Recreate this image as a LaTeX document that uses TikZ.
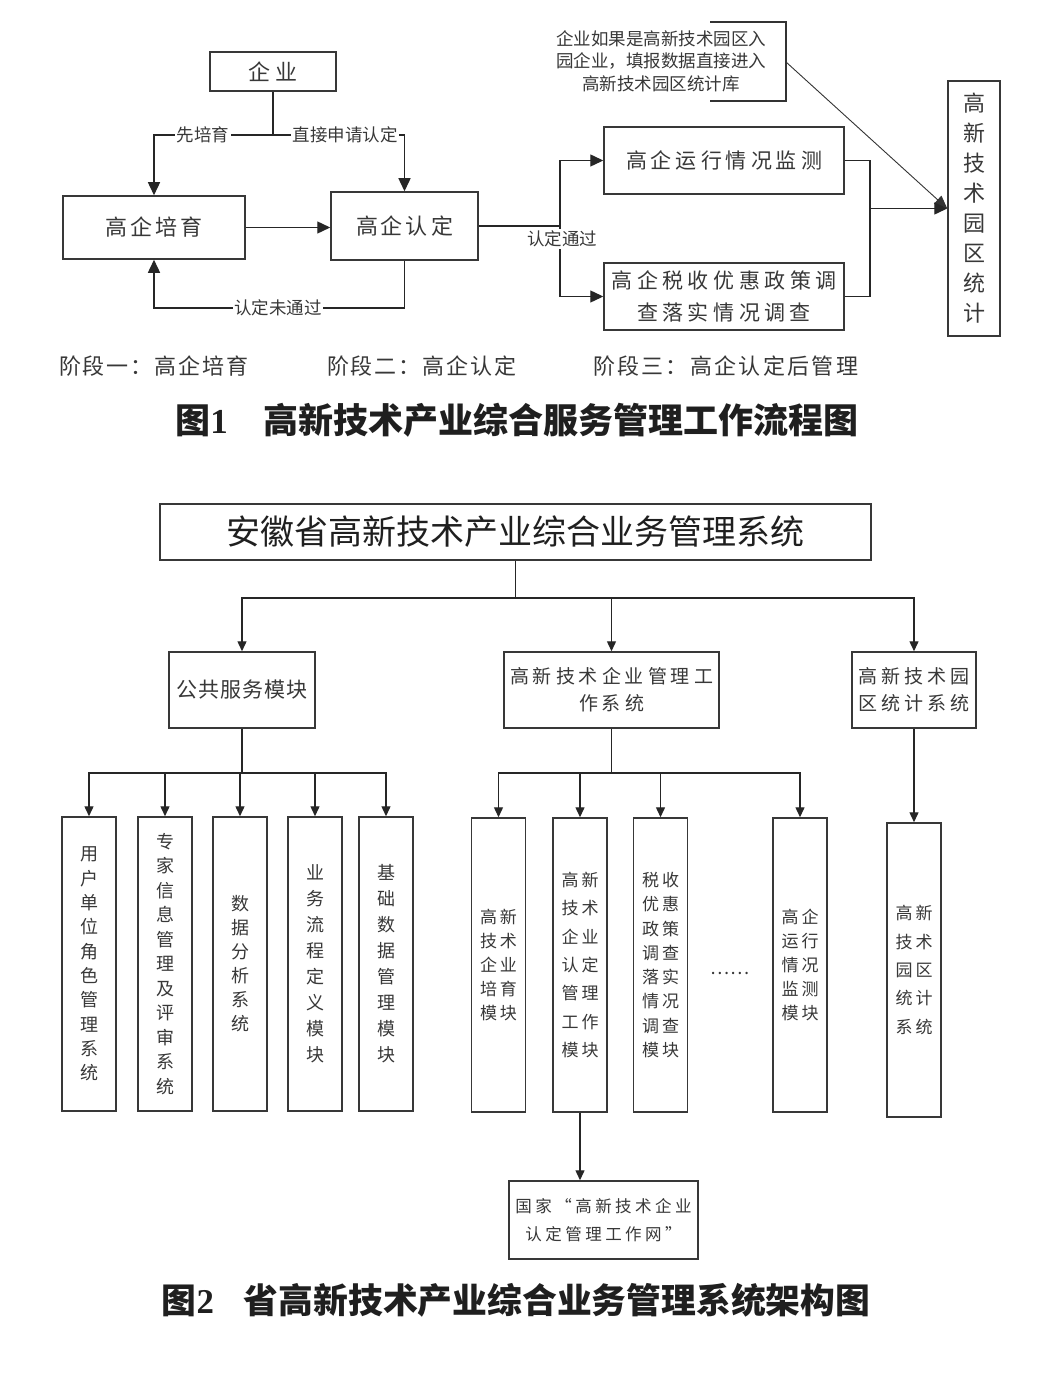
\documentclass[tikz,border=0pt]{standalone}
\usepackage{fontspec}
\setmainfont{Noto Sans CJK SC}
\newfontfamily\numf{Liberation Serif}
\usetikzlibrary{arrows.meta}
\newcommand\fsz[2]{\fontsize{#1}{#2}\selectfont}
\makeatletter
\newcommand\ltrsp[2]{\def\ltrsp@sep{\hspace{#1}}\let\ltrsp@pre\relax\@tfor\ltrsp@tok:=#2\do{\ltrsp@pre\ltrsp@tok\let\ltrsp@pre\ltrsp@sep}}
\makeatother
\tikzset{
 box/.style={draw=black!78, line width=1.5pt, inner sep=0pt, align=center, text=black!78},
 vbox/.style={box, minimum width=54pt, minimum height=294pt},
 txt/.style={inner sep=0pt, align=center, text=black!78},
 lnk/.style={draw=black!85, line width=1.4pt},
 arr/.style={lnk, -{Triangle[length=13pt,width=12pt]}},
 arrs/.style={lnk, -{Triangle[length=10pt,width=9pt]}},
 thinarr/.style={draw=black!80, line width=0.9pt, -{Triangle[length=13pt,width=11pt]}},
 lbl/.style={fill=white, inner sep=1.5pt, text=black!78, font=\fsz{17.5}{17.5}},
}
\begin{document}
\begin{tikzpicture}[x=1pt,y=-1pt]
\fill[white] (0,0) rectangle (1036,1388);
\useasboundingbox (0,0) rectangle (1036,1388);

% ---------------- Figure 1 ----------------
\node[box, minimum width=126pt, minimum height=39pt, font=\fsz{22}{22}] (qy) at (273,71.5) {\ltrsp{5pt}{企业}};
\node[box, minimum width=182pt, minimum height=63pt, font=\fsz{22}{22}] (py) at (154,227.5) {\ltrsp{3pt}{高企培育}};
\node[box, minimum width=147pt, minimum height=68pt, font=\fsz{22}{22}] (rd) at (404.5,226) {\ltrsp{3pt}{高企认定}};
\node[box, minimum width=240pt, minimum height=67pt, font=\fsz{21}{21}] (jc) at (724,160.5) {\ltrsp{4pt}{高企运行情况监测}};
\node[box, minimum width=240pt, minimum height=67pt, font=\fsz{21}{32}] (ss) at (724,296.5) {\ltrsp{4.5pt}{高企税收优惠政策调}\\\ltrsp{4.5pt}{查落实情况调查}};
\node[box, minimum width=52pt, minimum height=255pt, font=\fsz{22}{30}] (tj) at (974,208.5) {高\\新\\技\\术\\园\\区\\统\\计};

\node[txt, font=\fsz{17.5}{22.5}] (note) at (661,61) {企业如果是高新技术园区入\\园企业，填报数据直接进入\\高新技术园区统计库};
\coordinate (nb1) at (710,22);
\coordinate (nb2) at (786,22);
\coordinate (nb3) at (786,101);
\coordinate (nb4) at (710,101);
\coordinate (nr) at (786,62);
\draw[draw=black!80, line width=1.4pt] (nb1) -- (nb2) -- (nb3) -- (nb4);
\draw[thinarr] (nr) -- (tj.west);

% connectors
\coordinate (j1) at (273,135);
\draw[lnk] (qy.south) -- (j1);
\draw[arr] (j1) -| (py.north);
\draw[arr] (j1) -| (rd.north);
\draw[arr] (py.east) -- (py.east -| rd.west);
\coordinate (j0) at (404.5,308);
\draw[arr] (rd.south) -- (j0) -| (py.south);
\coordinate (j2) at (560,226);
\draw[lnk] (rd.east) -- (j2);
\draw[arr] (j2) |- (jc.west);
\draw[arr] (j2) |- (ss.west);
\coordinate (j3) at (870,208.5);
\draw[lnk] (jc.east) -| (j3);
\draw[lnk] (ss.east) -| (j3);
\draw[arr] (j3) -- (tj.west);

\node[lbl] (l1) at (203,135) {先培育};
\node[lbl] (l2) at (345,135) {直接申请认定};
\node[lbl] (l3) at (278,308) {认定未通过};
\node[lbl] (l4) at (562,239) {认定通过};

\node[txt, font=\fsz{22}{22}] (s1) at (154,366) {\ltrsp{2pt}{阶段一：高企培育}};
\node[txt, font=\fsz{22}{22}] (s2) at (422,366) {\ltrsp{2pt}{阶段二：高企认定}};
\node[txt, font=\fsz{22}{22}] (s3) at (725.5,366) {\ltrsp{2.3pt}{阶段三：高企认定后管理}};

\node[txt, text=black!88, font=\fsz{35}{35}\bfseries] (cap1) at (517,420) {图{\numf 1}\hspace{36pt}高新技术产业综合服务管理工作流程图};

% ---------------- Figure 2 ----------------
\node[box, minimum width=711pt, minimum height=56pt, font=\fsz{34}{34}, text=black!88] (sys) at (515.5,532) {安徽省高新技术产业综合业务管理系统};
\node[box, minimum width=146pt, minimum height=76pt, font=\fsz{21}{21}] (gg) at (242,690) {\ltrsp{1pt}{公共服务模块}};
\node[box, minimum width=215pt, minimum height=76pt, font=\fsz{19}{27}] (gl) at (611.5,690) {\ltrsp{4pt}{高新技术企业管理工}\\\ltrsp{4pt}{作系统}};
\node[box, minimum width=124pt, minimum height=76pt, font=\fsz{19}{27}] (yq) at (914,690) {\ltrsp{4pt}{高新技术园}\\\ltrsp{4pt}{区统计系统}};

\coordinate (b1) at (515.5,598);
\draw[lnk] (sys.south) -- (b1);
\draw[arrs] (b1) -| (gg.north);
\draw[arrs] (b1) -| (gl.north);
\draw[arrs] (b1) -| (yq.north);

\node[vbox, font=\fsz{18}{24.3}] (u1) at (89,964) {用\\户\\单\\位\\角\\色\\管\\理\\系\\统};
\node[vbox, font=\fsz{18}{24.5}] (u2) at (165,964) {专\\家\\信\\息\\管\\理\\及\\评\\审\\系\\统};
\node[vbox, font=\fsz{18}{24}] (u3) at (240,964) {数\\据\\分\\析\\系\\统};
\node[vbox, font=\fsz{18}{26}] (u4) at (315,964) {业\\务\\流\\程\\定\\义\\模\\块};
\node[vbox, font=\fsz{18}{26}] (u5) at (386,964) {基\\础\\数\\据\\管\\理\\模\\块};

\coordinate (b2) at (242,773);
\draw[lnk] (gg.south) -- (b2);
\foreach \n in {u1,u2,u3,u4,u5} \draw[arrs] (b2) -| (\n.north);

\node[vbox, font=\fsz{17}{24}] (m1) at (498.5,965) {\ltrsp{3pt}{高新}\\\ltrsp{3pt}{技术}\\\ltrsp{3pt}{企业}\\\ltrsp{3pt}{培育}\\\ltrsp{3pt}{模块}};
\node[vbox, font=\fsz{17}{28.3}] (m2) at (580,965) {\ltrsp{3pt}{高新}\\\ltrsp{3pt}{技术}\\\ltrsp{3pt}{企业}\\\ltrsp{3pt}{认定}\\\ltrsp{3pt}{管理}\\\ltrsp{3pt}{工作}\\\ltrsp{3pt}{模块}};
\node[vbox, font=\fsz{17}{24.3}] (m3) at (660.5,965) {\ltrsp{3pt}{税收}\\\ltrsp{3pt}{优惠}\\\ltrsp{3pt}{政策}\\\ltrsp{3pt}{调查}\\\ltrsp{3pt}{落实}\\\ltrsp{3pt}{情况}\\\ltrsp{3pt}{调查}\\\ltrsp{3pt}{模块}};
\node[vbox, font=\fsz{17}{24.2}] (m4) at (800,965) {\ltrsp{3pt}{高企}\\\ltrsp{3pt}{运行}\\\ltrsp{3pt}{情况}\\\ltrsp{3pt}{监测}\\\ltrsp{3pt}{模块}};
\node[txt, font=\fsz{18}{18}] (dots) at (730,973) {……};
\node[vbox, font=\fsz{17}{28.3}] (m5) at (914,970) {\ltrsp{3pt}{高新}\\\ltrsp{3pt}{技术}\\\ltrsp{3pt}{园区}\\\ltrsp{3pt}{统计}\\\ltrsp{3pt}{系统}};

\coordinate (b3) at (611.5,773);
\draw[lnk] (gl.south) -- (b3);
\foreach \n in {m1,m2,m3,m4} \draw[arrs] (b3) -| (\n.north);
\draw[arrs] (yq.south) -- (m5.north);

\node[box, minimum width=189pt, minimum height=78pt, font=\fsz{16.5}{28}] (gj) at (603.5,1220) {\ltrsp{3.5pt}{国家“高新技术企业}\\\ltrsp{3.5pt}{认定管理工作网”}};
\draw[arrs] (m2.south) -- (m2.south |- gj.north);

\node[txt, text=black!88, font=\fsz{34.8}{34.8}\bfseries] (cap2) at (516,1300) {图{\numf 2}\hspace{30pt}省高新技术产业综合业务管理系统架构图};
\end{tikzpicture}
\end{document}
